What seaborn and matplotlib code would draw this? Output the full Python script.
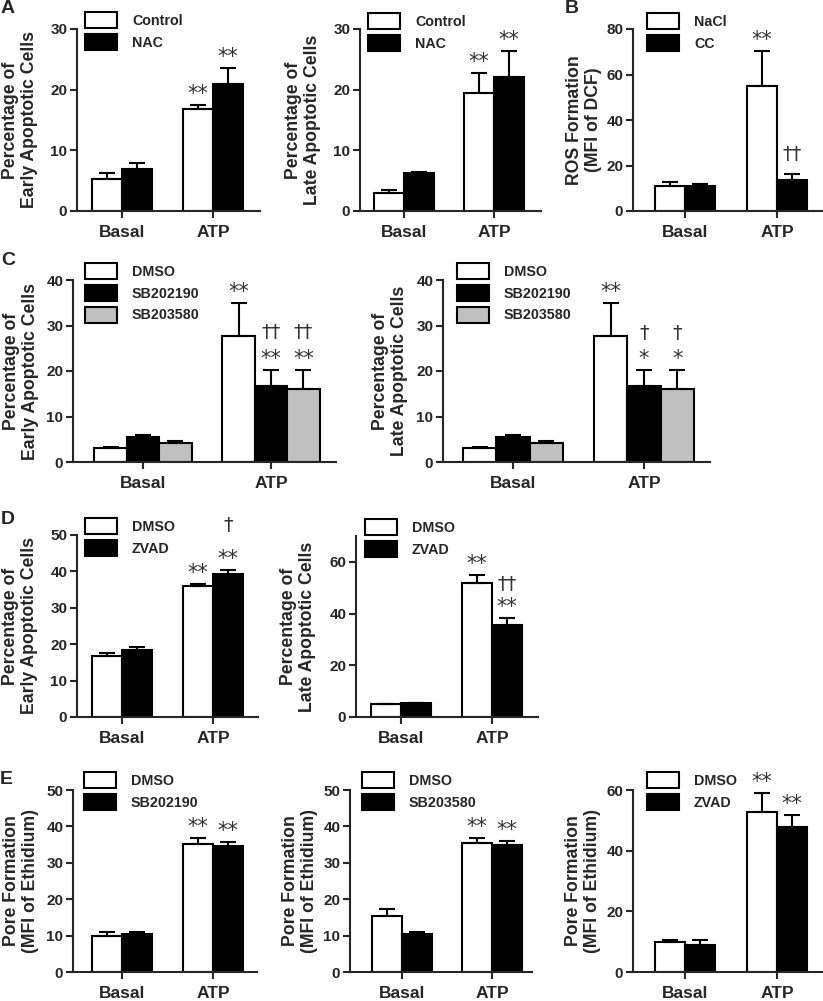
import matplotlib
matplotlib.use('Agg')
import matplotlib.pyplot as plt
import seaborn as sns
import numpy as np
import pandas as pd
from matplotlib.patches import Patch

sns.set_style('ticks')
plt.rcParams['font.family'] = ['Liberation Sans', 'DejaVu Sans']
plt.rcParams['font.weight'] = 'bold'

W, H = 823, 1001
PT = 0.72  # px -> pt at 100 dpi

groups = ['Basal', 'ATP']
WHITE, BLACK, GRAY = '#ffffff', '#000000', '#c0c0c0'

# ---- Panel A : NAC ----
a_labels = ['Control', 'NAC']
a1_mean = [[5.3, 16.8], [6.9, 20.9]]
a1_err = [[0.9, 0.7], [1.0, 2.7]]
a1_stars = [['', '**'], ['', '**']]
a1_dag = [['', ''], ['', '']]

a2_mean = [[3.0, 19.4], [6.3, 22.1]]
a2_err = [[0.5, 3.3], [0.2, 4.2]]
a2_stars = [['', '**'], ['', '**']]
a2_dag = [['', ''], ['', '']]

# ---- Panel B : ROS ----
b_labels = ['NaCl', 'CC']
b_mean = [[11.2, 55.0], [10.8, 13.8]]
b_err = [[1.5, 15.3], [1.0, 2.5]]
b_stars = [['', '**'], ['', '']]
b_dag = [['', ''], ['', '††']]

# ---- Panel C : p38 inhibitors ----
c_labels = ['DMSO', 'SB202190', 'SB203580']
c1_mean = [[3.0, 27.8], [5.5, 16.6], [4.2, 16.1]]
c1_err = [[0.3, 7.2], [0.4, 3.7], [0.4, 4.2]]
c1_stars = [['', '**'], ['', '**'], ['', '**']]
c1_dag = [['', ''], ['', '††'], ['', '††']]

c2_mean = [[3.0, 27.8], [5.5, 16.6], [4.2, 16.1]]
c2_err = [[0.3, 7.2], [0.4, 3.7], [0.4, 4.2]]
c2_stars = [['', '**'], ['', '*'], ['', '*']]
c2_dag = [['', ''], ['', '†'], ['', '†']]

# ---- Panel D : ZVAD ----
d_labels = ['DMSO', 'ZVAD']
d1_mean = [[16.7, 36.0], [18.4, 39.3]]
d1_err = [[0.8, 0.5], [0.8, 1.1]]
d1_stars = [['', '**'], ['', '**']]
d1_dag = [['', ''], ['', '†']]

d2_mean = [[5.0, 51.8], [5.4, 35.4]]
d2_err = [[0.2, 3.1], [0.2, 3.0]]
d2_stars = [['', '**'], ['', '**']]
d2_dag = [['', ''], ['', '††']]

# ---- Panel E : pore formation ----
e1_labels = ['DMSO', 'SB202190']
e1_mean = [[9.9, 35.2], [10.4, 34.6]]
e1_err = [[1.0, 1.6], [0.6, 1.2]]
e1_stars = [['', '**'], ['', '**']]

e2_labels = ['DMSO', 'SB203580']
e2_mean = [[15.3, 35.4], [10.4, 34.8]]
e2_err = [[2.0, 1.4], [0.6, 1.1]]
e2_stars = [['', '**'], ['', '**']]

e3_labels = ['DMSO', 'ZVAD']
e3_mean = [[9.9, 52.6], [9.0, 47.9]]
e3_err = [[0.7, 6.4], [1.5, 3.8]]
e3_stars = [['', '**'], ['', '**']]
no_dag = [['', ''], ['', '']]

early = 'Percentage of\nEarly Apoptotic Cells'
late = 'Percentage of\nLate Apoptotic Cells'
pore = 'Pore Formation\n(MFI of Ethidium)'

fig = plt.figure(figsize=(W / 100, H / 100), dpi=100)


def panel(box, labels, means, errs, colors, stars, dags, ylabel, ymax, yticks,
          width, lab_x, leg_xy, dag_gap=26):
    left, right, zero_y, top_y, t0, t1 = box
    ax = fig.add_axes([left / W, 1 - zero_y / H, (right - left) / W, (zero_y - top_y) / H])
    df = pd.DataFrame({
        'group': np.tile(groups, len(labels)),
        'treat': np.repeat(labels, len(groups)),
        'value': np.ravel(means),
    })
    sns.barplot(data=df, x='group', y='value', hue='treat', order=groups,
                hue_order=labels, palette=colors, saturation=1, width=width,
                edgecolor='black', linewidth=1.5, errorbar=None, legend=False, ax=ax)
    for cont, err, st, dg in zip(ax.containers, errs, stars, dags):
        for bar, e, s, d in zip(cont, err, st, dg):
            x = bar.get_x() + bar.get_width() / 2
            top = bar.get_height() + e
            ax.errorbar(x, bar.get_height(), yerr=[[0], [e]], fmt='none', ecolor='black',
                        elinewidth=1.5, capsize=6, capthick=1.5, zorder=3)
            off = 11
            if s:
                ax.annotate(s, (x, top), xytext=(0, off * PT), textcoords='offset points',
                            ha='center', va='center', fontsize=15, family='DejaVu Sans',
                            fontweight='normal', color='#333333')
                off += dag_gap
            else:
                off = 19
            if d:
                ax.annotate(d, (x, top), xytext=(0, off * PT), textcoords='offset points',
                            ha='center', va='center', fontsize=14, family='DejaVu Sans',
                            fontweight='normal', color='#333333')
    s = t1 - t0
    ax.set_xlim((left - t0) / s, (right - t0) / s)
    ax.set_ylim(0, ymax)
    ax.set_yticks(yticks)
    sns.despine(ax=ax)
    for sp in ['left', 'bottom']:
        ax.spines[sp].set_linewidth(1.5)
    ax.tick_params(axis='both', width=1.5, length=5, direction='out')
    ax.tick_params(axis='x', labelsize=12.5, pad=5)
    ax.tick_params(axis='y', labelsize=11, pad=2)
    ax.set_xlabel('')
    ax.set_ylabel(ylabel, fontsize=12.7, fontweight='bold', va='center', ha='center',
                  linespacing=1.1)
    ax.yaxis.set_label_coords((lab_x - left) / (right - left), 0.5)
    handles = [Patch(facecolor=c, edgecolor='black', linewidth=1.5) for c in colors]
    fs = 10.3 / PT
    ax.legend(handles, labels, loc='upper left',
              bbox_to_anchor=(leg_xy[0] / W, 1 - leg_xy[1] / H),
              bbox_transform=fig.transFigure, frameon=False, borderpad=0,
              borderaxespad=0, handlelength=32 / fs, handleheight=19 / fs,
              handletextpad=15 / fs, labelspacing=0.42,
              prop={'size': 10.3, 'weight': 'bold'})
    return ax


panel((77, 260, 211, 29, 122, 213), a_labels, a1_mean, a1_err, [WHITE, BLACK],
      a1_stars, a1_dag, early, 30, [0, 10, 20, 30], 0.67, 20, (85, 12))
panel((360, 541, 211, 29, 404, 494), a_labels, a2_mean, a2_err, [WHITE, BLACK],
      a2_stars, a2_dag, late, 30, [0, 10, 20, 30], 0.67, 303, (368, 13))
panel((633, 823, 211, 29, 685, 777), b_labels, b_mean, b_err, [WHITE, BLACK],
      b_stars, b_dag, 'ROS Formation\n(MFI of DCF)', 80, [0, 20, 40, 60, 80], 0.65, 584, (647, 13))
panel((73, 336, 462, 280, 143, 271), c_labels, c1_mean, c1_err, [WHITE, BLACK, GRAY],
      c1_stars, c1_dag, early, 40, [0, 10, 20, 30, 40], 0.76, 21, (85, 263))
panel((443, 710, 462, 280, 513, 644), c_labels, c2_mean, c2_err, [WHITE, BLACK, GRAY],
      c2_stars, c2_dag, late, 40, [0, 10, 20, 30, 40], 0.76, 390, (457, 263), dag_gap=25)
panel((77, 258, 717, 535, 122, 213), d_labels, d1_mean, d1_err, [WHITE, BLACK],
      d1_stars, d1_dag, early, 50, [0, 10, 20, 30, 40, 50], 0.67, 20, (85, 518), dag_gap=33)
panel((356, 538, 717, 536, 401, 492), d_labels, d2_mean, d2_err, [WHITE, BLACK],
      d2_stars, d2_dag, late, 70, [0, 20, 40, 60], 0.67, 298, (365, 519), dag_gap=22)
panel((73, 257, 972, 790, 122, 213), e1_labels, e1_mean, e1_err, [WHITE, BLACK],
      e1_stars, no_dag, pore, 50, [0, 10, 20, 30, 40, 50], 0.66, 21, (84, 772))
panel((350, 532, 972, 790, 402, 492), e2_labels, e2_mean, e2_err, [WHITE, BLACK],
      e2_stars, no_dag, pore, 50, [0, 10, 20, 30, 40, 50], 0.66, 300, (362, 772))
panel((633, 822, 972, 790, 685, 777), e3_labels, e3_mean, e3_err, [WHITE, BLACK],
      e3_stars, no_dag, pore, 60, [0, 20, 40, 60], 0.66, 583, (647, 772))

for letter, (lx, ly) in zip('ABCDE', [(1, 0), (565, 0), (1, 252), (1, 511), (0, 771)]):
    fig.text(lx / W, 1 - ly / H, letter, ha='left', va='top', fontsize=14, fontweight='bold')

fig.savefig('out.png', dpi=100)
